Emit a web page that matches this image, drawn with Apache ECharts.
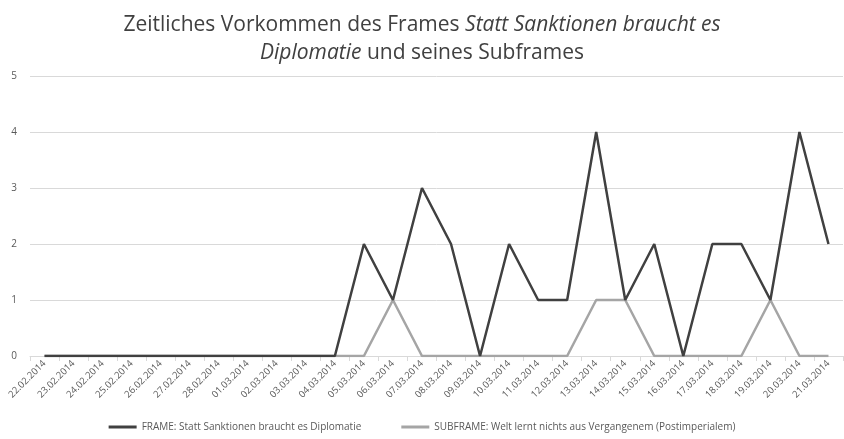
<!DOCTYPE html>
<html>
<head>
<meta charset="utf-8">
<script src="https://cdn.jsdelivr.net/npm/echarts@6/dist/echarts.min.js"></script>
<style>html,body{margin:0;padding:0;background:#fff}#c{width:844px;height:439px}</style>
</head>
<body>
<div id="c"></div>
<script>
const categories = ['22.02.2014','23.02.2014','24.02.2014','25.02.2014','26.02.2014','27.02.2014','28.02.2014','01.03.2014','02.03.2014','03.03.2014','04.03.2014','05.03.2014','06.03.2014','07.03.2014','08.03.2014','09.03.2014','10.03.2014','11.03.2014','12.03.2014','13.03.2014','14.03.2014','15.03.2014','16.03.2014','17.03.2014','18.03.2014','19.03.2014','20.03.2014','21.03.2014'];
const frameValues = [0,0,0,0,0,0,0,0,0,0,0,2,1,3,2,0,2,1,1,4,1,2,0,2,2,1,4,2];
const subframeValues = [0,0,0,0,0,0,0,0,0,0,0,0,1,0,0,0,0,0,0,1,1,0,0,0,0,1,0,0];
const frameName = 'FRAME: Statt Sanktionen braucht es Diplomatie';
const subframeName = 'SUBFRAME: Welt lernt nichts aus Vergangenem (Postimperialem)';

const font = '"Open Sans", sans-serif';
const chart = echarts.init(document.getElementById('c'));
chart.setOption({
  animation: false,
  title: {
    left: 'center',
    top: 6,
    text: '{n|Zeitliches Vorkommen des Frames }{i|Statt Sanktionen braucht es}\n{i|Diplomatie}{n| und seines Subframes}',
    textStyle: {
      fontFamily: font, fontSize: 21, fontWeight: 'normal', color: '#404040', lineHeight: 28,
      rich: {
        n: {fontFamily: font, fontSize: 21, fontWeight: 'normal', color: '#404040', lineHeight: 28},
        i: {fontFamily: font, fontSize: 21, fontWeight: 'normal', color: '#404040', fontStyle: 'italic', lineHeight: 28}
      }
    }
  },
  grid: {left: 30, right: 1, top: 76, bottom: 83},
  legend: {
    bottom: 2,
    left: 'center',
    icon: 'rect',
    itemWidth: 28,
    itemHeight: 3,
    itemGap: 40,
    textStyle: {fontFamily: font, fontSize: 10, color: '#595959'},
    data: [frameName, subframeName]
  },
  xAxis: {
    type: 'category',
    data: categories,
    boundaryGap: true,
    axisLine: {lineStyle: {color: '#d9d9d9'}},
    axisTick: {show: true, length: 5, lineStyle: {color: '#d9d9d9'}},
    axisLabel: {rotate: 45, interval: 0, fontFamily: font, fontSize: 9.5, color: '#595959', margin: 6}
  },
  yAxis: {
    type: 'value',
    min: 0, max: 5, interval: 1,
    axisLine: {show: false},
    axisTick: {show: false},
    splitLine: {lineStyle: {color: '#d9d9d9'}},
    axisLabel: {fontFamily: font, fontSize: 10, color: '#595959', margin: 13}
  },
  series: [
    {name: frameName, type: 'line', data: frameValues, symbol: 'none', lineStyle: {color: '#404040', width: 2.5}, itemStyle: {color: '#404040'}, z: 3},
    {name: subframeName, type: 'line', data: subframeValues, symbol: 'none', lineStyle: {color: '#a5a5a5', width: 2.5}, itemStyle: {color: '#a5a5a5'}, z: 2}
  ]
});
</script>
</body>
</html>
